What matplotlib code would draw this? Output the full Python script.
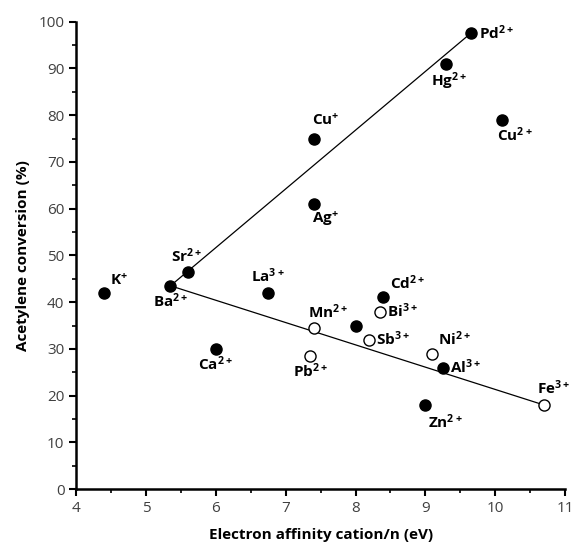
import matplotlib.pyplot as plt

plt.rcParams['font.family'] = ['Open Sans', 'DejaVu Sans']
plt.rcParams['mathtext.fontset'] = 'custom'
plt.rcParams['mathtext.bf'] = 'Open Sans:bold'
plt.rcParams['mathtext.rm'] = 'Open Sans'

# filled points
filled_ions = ['K', 'Ba', 'Sr', 'Ca', 'La', 'Cu+', 'Ag', '', 'Cd', 'Al', 'Zn', 'Hg', 'Pd', 'Cu2+']
filled_x = [4.4, 5.35, 5.6, 6.0, 6.75, 7.4, 7.4, 8.0, 8.4, 9.25, 9.0, 9.3, 9.65, 10.1]
filled_y = [42, 43.5, 46.5, 30, 42, 75, 61, 35, 41, 26, 18, 91, 97.5, 79]

# open points
open_ions = ['Mn', 'Pb', 'Sb', 'Bi', 'Ni', 'Fe']
open_x = [7.4, 7.35, 8.2, 8.35, 9.1, 10.7]
open_y = [34.5, 28.5, 32, 38, 29, 18]

# trend lines
line_up_x = [5.35, 9.65]
line_up_y = [43.5, 97.5]
line_down_x = [5.35, 10.7]
line_down_y = [43.5, 18]

labels = {
    'K': (r'$\mathbf{K^{+}}$', (4, 3), 'left', 'bottom'),
    'Ba': (r'$\mathbf{Ba^{2+}}$', (0, -5), 'center', 'top'),
    'Sr': (r'$\mathbf{Sr^{2+}}$', (-1, 4), 'center', 'bottom'),
    'Ca': (r'$\mathbf{Ca^{2+}}$', (0, -5), 'center', 'top'),
    'La': (r'$\mathbf{La^{3+}}$', (0, 5), 'center', 'bottom'),
    'Cu+': (r'$\mathbf{Cu^{+}}$', (-1, 7), 'left', 'bottom'),
    'Ag': (r'$\mathbf{Ag^{+}}$', (-1, -4), 'left', 'top'),
    'Cd': (r'$\mathbf{Cd^{2+}}$', (5, 3), 'left', 'bottom'),
    'Al': (r'$\mathbf{Al^{3+}}$', (5, 0), 'left', 'center'),
    'Zn': (r'$\mathbf{Zn^{2+}}$', (2, -6), 'left', 'top'),
    'Hg': (r'$\mathbf{Hg^{2+}}$', (2, -5), 'center', 'top'),
    'Pd': (r'$\mathbf{Pd^{2+}}$', (6, 0), 'left', 'center'),
    'Cu2+': (r'$\mathbf{Cu^{2+}}$', (-4, -5), 'left', 'top'),
    'Mn': (r'$\mathbf{Mn^{2+}}$', (-4, 4), 'left', 'bottom'),
    'Pb': (r'$\mathbf{Pb^{2+}}$', (0, -5), 'center', 'top'),
    'Sb': (r'$\mathbf{Sb^{3+}}$', (5, 0), 'left', 'center'),
    'Bi': (r'$\mathbf{Bi^{3+}}$', (5, 0), 'left', 'center'),
    'Ni': (r'$\mathbf{Ni^{2+}}$', (4, 3), 'left', 'bottom'),
    'Fe': (r'$\mathbf{Fe^{3+}}$', (-5, 5), 'left', 'bottom'),
}

fig = plt.figure(figsize=(5.73, 5.54), dpi=100)
ax = fig.add_axes([0.133, 0.117, 0.853, 0.844])

ax.plot(line_up_x, line_up_y, color='black', lw=0.9, zorder=1)
ax.plot(line_down_x, line_down_y, color='black', lw=0.9, zorder=1)
ax.plot(filled_x, filled_y, 'o', color='black', ms=8, zorder=3)
ax.plot(open_x, open_y, 'o', mfc='white', mec='black', mew=1, ms=8, zorder=3)

for ion, x, y in list(zip(filled_ions, filled_x, filled_y)) + list(zip(open_ions, open_x, open_y)):
    if ion not in labels:
        continue
    txt, off, ha, va = labels[ion]
    ax.annotate(txt, (x, y), xytext=off, textcoords='offset points',
                ha=ha, va=va, fontsize=11, color='black')

ax.set_xlim(4, 11)
ax.set_ylim(0, 100)
ax.set_xticks(range(4, 12))
ax.set_yticks(range(0, 101, 10))
ax.set_xticks([x + 0.5 for x in range(4, 11)], minor=True)
ax.set_yticks(range(5, 100, 10), minor=True)
ax.tick_params(which='major', direction='out', length=5, width=1.5, labelsize=11, labelcolor='#404040')
ax.tick_params(which='minor', direction='out', length=3, width=1.2)

for s in ['top', 'right']:
    ax.spines[s].set_visible(False)
for s in ['left', 'bottom']:
    ax.spines[s].set_linewidth(1.8)

ax.set_xlabel('Electron affinity cation/n (eV)', fontsize=11, fontweight='bold', labelpad=9)
ax.set_ylabel('Acetylene conversion (%)', fontsize=11, fontweight='bold', labelpad=6)

fig.savefig('out.png', dpi=100)
